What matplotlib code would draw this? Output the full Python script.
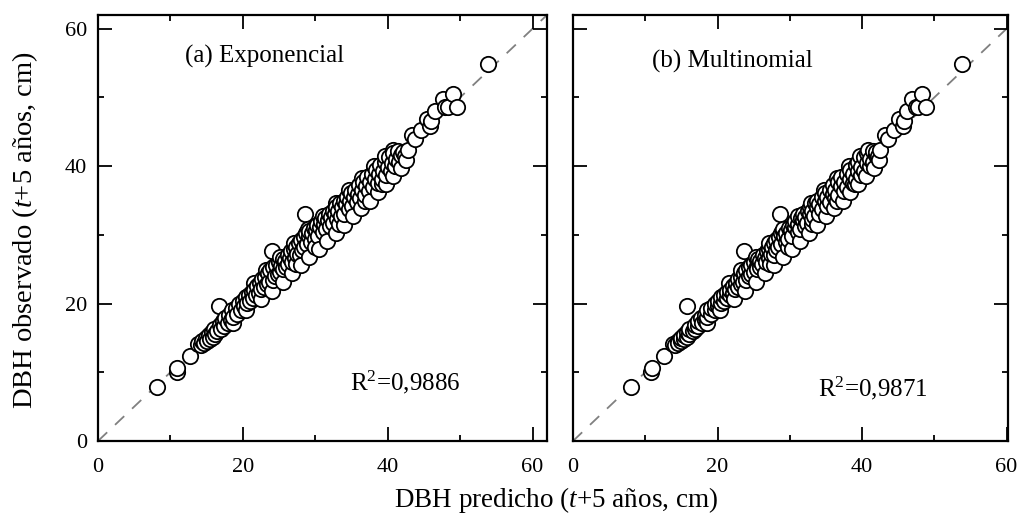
import matplotlib
matplotlib.use("Agg")
import matplotlib.pyplot as plt
import numpy as np
from matplotlib.ticker import MultipleLocator

plt.rcParams['font.family'] = ['Liberation Serif', 'DejaVu Serif']
plt.rcParams['mathtext.fontset'] = 'custom'
plt.rcParams['mathtext.rm'] = 'Liberation Serif'
plt.rcParams['mathtext.it'] = 'Liberation Serif:italic'

# observed DBH (t+5 years, cm)
observado = [7.9, 10.1, 10.6, 12.4,
             14.1, 13.9, 14.6, 14.2, 15.0, 14.5, 15.4, 14.9, 15.8, 15.2,
             16.3, 15.6, 16.0, 19.6, 16.9, 16.3, 17.4, 16.7, 17.9, 17.2,
             18.3, 17.6, 19.0, 18.1, 19.4, 18.5, 19.9, 19.1, 20.4,
             19.6, 20.9, 20.1, 21.3, 20.4, 21.7, 20.8, 22.0, 21.2, 22.5,
             21.6, 23.0, 22.1, 23.6, 22.4, 23.9, 22.8, 24.4, 23.2, 24.9,
             27.6, 23.5, 25.3, 24.0, 25.6, 24.3, 26.0, 24.6, 25.4, 26.5, 25.0,
             26.2, 25.3, 27.1, 25.8, 26.7, 27.6, 26.1, 27.9, 26.6, 28.3, 27.2,
             28.8, 27.1, 29.3, 27.8, 29.7, 28.2, 33.0, 30.2, 28.6, 29.8, 30.6, 29.0, 30.2, 31.0, 29.4, 30.7,
             31.5, 29.9, 31.1, 32.0, 30.4, 31.6, 32.5, 30.9, 32.1, 33.0,
             31.3, 32.6, 33.5, 31.8, 33.0, 34.1, 32.3, 33.5, 34.6, 32.7,
             34.0, 35.0, 33.1, 34.5, 35.5, 33.7, 35.0, 36.1, 34.2, 35.5,
             36.6, 34.8, 36.0, 37.2, 35.3, 36.5, 37.7, 35.8, 37.1, 38.4,
             36.4, 37.7, 38.9, 36.9, 38.2, 39.5, 37.5, 38.8, 40.1, 38.1,
             39.3, 40.6, 38.7, 39.9, 41.3, 39.3, 40.5, 41.9, 40.0, 41.1,
             42.2, 40.6, 41.6, 42.0, 41.5, 42.3,
             44.6, 43.9, 45.2, 46.9, 45.8, 46.6, 48.0, 49.8, 48.6, 48.6, 50.5, 48.6, 54.9,
             20.6, 21.8, 23.2, 24.5, 25.6, 26.8, 28.0, 29.1, 30.2, 31.5,
             32.7, 33.9, 35.0, 36.2, 37.4, 38.6, 39.8, 40.9, 25.7, 28.3,
             31.6, 35.0, 37.4, 19.0, 17.2,
             23.0, 24.9, 26.8, 28.8, 30.8, 32.8, 34.7, 36.5, 38.3, 40.0, 41.5, 42.4]

# predicted DBH, exponential model (panel a)
predicho_exp = [8.1, 10.9, 10.9, 12.7,
                13.8, 14.2, 14.4, 14.7, 14.9, 15.1, 15.3, 15.5, 15.7, 15.9,
                16.0, 16.2, 16.5, 16.7, 16.8, 17.0, 17.2, 17.4, 17.6, 17.9,
                18.1, 18.3, 18.5, 18.7, 19.0, 19.2, 19.5, 19.8, 20.0,
                20.2, 20.4, 20.6, 20.8, 21.0, 21.2, 21.4, 21.6, 21.8, 22.0,
                22.2, 22.4, 22.5, 22.7, 22.9, 23.1, 23.3, 23.5, 23.6, 23.8,
                24.0, 24.1, 24.2, 24.4, 24.6, 24.8, 25.0, 25.1, 25.3, 25.5, 25.6,
                25.8, 26.0, 26.2, 26.3, 26.5, 26.7, 26.8, 27.0, 27.2, 27.4, 27.5,
                27.7, 27.9, 28.0, 28.2, 28.4, 28.5, 28.6, 28.7, 28.9, 29.1, 29.2, 29.4, 29.6, 29.8, 29.9, 30.1,
                30.3, 30.4, 30.6, 30.8, 31.0, 31.2, 31.4, 31.5, 31.7, 31.9,
                32.0, 32.2, 32.4, 32.5, 32.7, 32.9, 33.0, 33.2, 33.4, 33.5,
                33.7, 33.9, 34.0, 34.2, 34.4, 34.6, 34.8, 35.0, 35.1, 35.3,
                35.5, 35.7, 35.9, 36.1, 36.2, 36.4, 36.6, 36.8, 37.0, 37.2,
                37.4, 37.6, 37.8, 38.0, 38.2, 38.4, 38.6, 38.8, 39.0, 39.2,
                39.4, 39.6, 39.8, 40.0, 40.2, 40.4, 40.6, 40.8, 41.0, 41.2,
                41.4, 41.6, 41.8, 42.1, 42.4, 42.8,
                43.4, 43.8, 44.6, 45.4, 45.9, 46.0, 46.5, 47.7, 47.9, 48.3, 49.0, 49.6, 53.9,
                22.5, 24.0, 25.5, 26.8, 28.0, 29.2, 30.5, 31.6, 32.8, 34.0,
                35.2, 36.3, 37.5, 38.6, 39.7, 40.8, 41.8, 42.5, 27.4, 30.0,
                33.3, 36.8, 39.2, 20.5, 18.6,
                21.5, 23.2, 25.2, 27.0, 29.0, 31.0, 32.8, 34.6, 36.4, 38.1, 39.6, 40.7]

# predicted DBH, multinomial model (panel b)
predicho_mult = [8.0, 10.8, 10.9, 12.6,
                 13.9, 14.1, 14.5, 14.6, 15.0, 15.0, 15.4, 15.4, 15.8, 15.8,
                 16.1, 16.1, 16.6, 15.8, 16.9, 16.9, 17.3, 17.3, 17.7, 17.8,
                 18.2, 18.2, 18.6, 18.6, 19.1, 19.1, 19.6, 19.6, 20.1,
                 20.1, 20.5, 20.5, 20.9, 20.9, 21.3, 21.3, 21.7, 21.7, 22.1,
                 22.1, 22.5, 22.4, 22.8, 22.8, 23.2, 23.2, 23.6, 23.5, 23.9,
                 23.6, 24.0, 24.3, 24.3, 24.7, 24.7, 25.1, 25.0, 25.4, 25.6, 25.5,
                 25.9, 25.9, 26.3, 26.2, 26.6, 26.8, 26.7, 27.1, 27.1, 27.5, 27.4,
                 27.8, 27.8, 28.1, 28.1, 28.5, 28.4, 28.6, 28.8, 28.8, 29.2, 29.1, 29.5, 29.5, 29.9, 29.8, 30.2,
                 30.4, 30.3, 30.7, 30.7, 31.1, 31.1, 31.5, 31.4, 31.8, 31.8,
                 32.1, 32.1, 32.5, 32.4, 32.8, 32.8, 33.1, 33.1, 33.5, 33.4,
                 33.8, 33.8, 34.1, 34.1, 34.5, 34.5, 34.9, 34.9, 35.2, 35.2,
                 35.6, 35.6, 36.0, 36.0, 36.3, 36.3, 36.7, 36.7, 37.1, 37.1,
                 37.5, 37.5, 37.9, 37.9, 38.3, 38.3, 38.7, 38.7, 39.1, 39.1,
                 39.5, 39.5, 39.9, 39.9, 40.3, 40.3, 40.7, 40.7, 41.1, 41.1,
                 41.5, 41.5, 41.9, 42.0, 42.2, 42.5,
                 43.2, 43.6, 44.4, 45.1, 45.6, 45.8, 46.2, 46.9, 47.4, 47.8, 48.3, 48.8, 53.8,
                 22.3, 23.8, 25.3, 26.6, 27.8, 29.0, 30.3, 31.4, 32.6, 33.8,
                 35.0, 36.1, 37.3, 38.4, 39.5, 40.6, 41.6, 42.3, 27.2, 29.8,
                 33.1, 36.6, 39.0, 20.3, 18.5,
                 21.6, 23.3, 25.3, 27.1, 29.1, 31.1, 32.9, 34.7, 36.5, 38.2, 39.7, 40.8]

titulos = ["(a) Exponencial", "(b) Multinomial"]
r2_textos = [r"R$^{2}$=0,9886", r"R$^{2}$=0,9871"]
ticks_mayores = [0, 20, 40, 60]

fig = plt.figure(figsize=(10.22, 5.23), dpi=100)
ax1 = fig.add_axes([98/1022, 1-441/523, (547-98)/1022, (441-15)/523])
ax2 = fig.add_axes([573/1022, 1-441/523, (1008-573)/1022, (441-15)/523])

paneles = [(ax1, predicho_exp, 62.0, (12.0, 56.0), (34.8, 8.6)),
           (ax2, predicho_mult, 60.2, (10.9, 55.2), (33.9, 7.6))]

obs_arr = np.array(observado)
for i, (ax, pred, xmax, tpos, rpos) in enumerate(paneles):
    pred_arr = np.array(pred)
    orden = np.lexsort((obs_arr, pred_arr))  # draw from lower-left to upper-right
    ax.plot([0, 62], [0, 62], color='#808080', lw=1.3, dashes=(7, 6), zorder=1)
    ax.scatter(pred_arr[orden], obs_arr[orden], s=122, facecolors='white',
               edgecolors='black', linewidths=1.3, zorder=2)
    ax.set_xlim(0, xmax)
    ax.set_ylim(0, 62)
    ax.set_xticks(ticks_mayores)
    ax.set_yticks(ticks_mayores)
    ax.xaxis.set_minor_locator(MultipleLocator(10))
    ax.yaxis.set_minor_locator(MultipleLocator(10))
    ax.tick_params(which='both', direction='in', top=True, right=True, width=1.3,
                   labelsize=16)
    ax.tick_params(axis='x', which='major', pad=12)
    ax.tick_params(axis='y', which='major', pad=8)
    ax.tick_params(which='major', length=10)
    ax.tick_params(which='minor', length=4)
    for sp in ax.spines.values():
        sp.set_linewidth(1.6)
    ax.text(tpos[0], tpos[1], titulos[i], fontsize=18, va='center', ha='left')
    ax.text(rpos[0], rpos[1], r2_textos[i], fontsize=18, va='center', ha='left')

ax2.tick_params(labelleft=False)
fig.text(25/1022, 1-230/523, r"DBH observado ($t$+5 años, cm)", fontsize=20.5,
         rotation=90, ha='center', va='center')
fig.text(556/1022, 1-500/523, r"DBH predicho ($t$+5 años, cm)", fontsize=19.5,
         ha='center', va='center')

fig.savefig("out.png", dpi=100)
